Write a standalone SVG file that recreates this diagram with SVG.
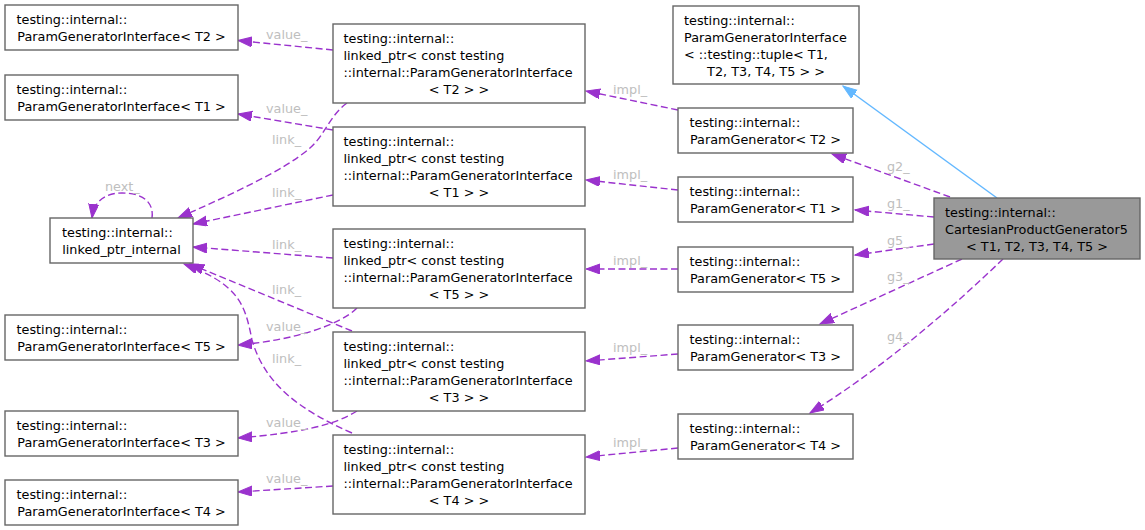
<svg xmlns="http://www.w3.org/2000/svg" width="1145" height="530" viewBox="0 0 1145 530">
<style>
.box{fill:#ffffff;stroke:#666666;stroke-width:1.4}
.main{fill:#999999;stroke:#666666;stroke-width:1.4}
text{font-family:"DejaVu Sans","Liberation Sans",sans-serif;font-size:12.8px;fill:#000000}
.c{text-anchor:middle}
.lbl{fill:#bebebe;font-size:12.8px}
.e{fill:none;stroke:#9a32cd;stroke-width:1.4;stroke-dasharray:7,3.5}
.inh{fill:none;stroke:#63b8ff;stroke-width:1.4}
</style>
<defs>
<marker id="ap" markerUnits="userSpaceOnUse" markerWidth="16" markerHeight="12" refX="14" refY="5" orient="auto">
<path d="M0,0 L14,5 L0,10 Z" fill="#9a32cd" stroke="#9a32cd" stroke-width="1"/>
</marker>
<marker id="ab" markerUnits="userSpaceOnUse" markerWidth="16" markerHeight="12" refX="14" refY="5" orient="auto">
<path d="M0,0 L14,5 L0,10 Z" fill="#63b8ff" stroke="#63b8ff" stroke-width="1"/>
</marker>
</defs>
<rect width="1145" height="530" fill="#ffffff"/>
<g id="connectors">
<path class="inh" d="M997,198 L843,86" marker-end="url(#ab)"/>
<path class="e" d="M950,197 L832,154" marker-end="url(#ap)"/>
<path class="e" d="M934,217 L855,210" marker-end="url(#ap)"/>
<path class="e" d="M934,244 L855,255" marker-end="url(#ap)"/>
<path class="e" d="M962,259 L820,324" marker-end="url(#ap)"/>
<path class="e" d="M1003,259 C950,310 880,370 810,413" marker-end="url(#ap)"/>
<path class="e" d="M678,110 L586,91" marker-end="url(#ap)"/>
<path class="e" d="M678,190 L586,180" marker-end="url(#ap)"/>
<path class="e" d="M678,269 L586,269" marker-end="url(#ap)"/>
<path class="e" d="M678,354 L586,361" marker-end="url(#ap)"/>
<path class="e" d="M678,448 L586,457" marker-end="url(#ap)"/>
<path class="e" d="M333,50 L238,40.5" marker-end="url(#ap)"/>
<path class="e" d="M333,130 L238,114" marker-end="url(#ap)"/>
<path class="e" d="M347,103 C330,115 325,135 310,148 C285,170 230,195 178,218" marker-end="url(#ap)"/>
<path class="e" d="M333,195 L193,224" marker-end="url(#ap)"/>
<path class="e" d="M333,258 L193,247" marker-end="url(#ap)"/>
<path class="e" d="M152,218 C154,204 145,193 122,193 C104,193 94,202 92,218" marker-end="url(#ap)"/>
<path class="e" d="M352,331 L190,264" marker-end="url(#ap)"/>
<path class="e" d="M352,433 C300,410 265,385 252,340 C245,305 240,285 184,264" marker-end="url(#ap)"/>
<path class="e" d="M357,308 C340,325 295,340 238,345" marker-end="url(#ap)"/>
<path class="e" d="M357,411 C335,425 300,433 238,438" marker-end="url(#ap)"/>
<path class="e" d="M333,486 L238,492" marker-end="url(#ap)"/>
<text class="lbl" x="887" y="171">g2_</text>
<text class="lbl" x="887" y="208">g1_</text>
<text class="lbl" x="887" y="245">g5_</text>
<text class="lbl" x="887" y="281">g3_</text>
<text class="lbl" x="887" y="341">g4_</text>
<text class="lbl" x="613" y="94">impl_</text>
<text class="lbl" x="613" y="179">impl_</text>
<text class="lbl" x="613" y="265">impl_</text>
<text class="lbl" x="613" y="352">impl_</text>
<text class="lbl" x="613" y="447">impl_</text>
<text class="lbl" x="266" y="39">value_</text>
<text class="lbl" x="266" y="113">value_</text>
<text class="lbl" x="266" y="331">value_</text>
<text class="lbl" x="266" y="427">value_</text>
<text class="lbl" x="266" y="483">value_</text>
<text class="lbl" x="272" y="144">link_</text>
<text class="lbl" x="272" y="197">link_</text>
<text class="lbl" x="272" y="249">link_</text>
<text class="lbl" x="272" y="294">link_</text>
<text class="lbl" x="272" y="363">link_</text>
<text class="lbl" x="105" y="191">next_</text>
</g>
<g id="pgi_t2"><rect class="box" x="5" y="5" width="233" height="45"/><text x="16.5" y="23.5">testing::internal::</text><text class="c" x="121.5" y="40.5">ParamGeneratorInterface&lt; T2 &gt;</text></g>
<g id="pgi_t1"><rect class="box" x="5" y="75" width="233" height="45"/><text x="16.5" y="93.5">testing::internal::</text><text class="c" x="121.5" y="110.5">ParamGeneratorInterface&lt; T1 &gt;</text></g>
<g id="lpi"><rect class="box" x="50" y="218" width="143" height="45"/><text x="62" y="236.5">testing::internal::</text><text class="c" x="121.5" y="253.5">linked_ptr_internal</text></g>
<g id="pgi_t5"><rect class="box" x="5" y="315" width="233" height="45"/><text x="16.5" y="333.5">testing::internal::</text><text class="c" x="121.5" y="350.5">ParamGeneratorInterface&lt; T5 &gt;</text></g>
<g id="pgi_t3"><rect class="box" x="5" y="411" width="233" height="45"/><text x="16.5" y="429.5">testing::internal::</text><text class="c" x="121.5" y="446.5">ParamGeneratorInterface&lt; T3 &gt;</text></g>
<g id="pgi_t4"><rect class="box" x="5" y="480" width="233" height="45"/><text x="16.5" y="498.5">testing::internal::</text><text class="c" x="121.5" y="515.5">ParamGeneratorInterface&lt; T4 &gt;</text></g>
<g id="lp_t2"><rect class="box" x="333" y="24" width="252" height="79"/><text x="343.5" y="42.5">testing::internal::</text><text x="343.5" y="59.5">linked_ptr&lt; const testing</text><text x="343.5" y="76.5">::internal::ParamGeneratorInterface</text><text class="c" x="459" y="93.5">&lt; T2 &gt; &gt;</text></g>
<g id="lp_t1"><rect class="box" x="333" y="127" width="252" height="79"/><text x="343.5" y="145.5">testing::internal::</text><text x="343.5" y="162.5">linked_ptr&lt; const testing</text><text x="343.5" y="179.5">::internal::ParamGeneratorInterface</text><text class="c" x="459" y="196.5">&lt; T1 &gt; &gt;</text></g>
<g id="lp_t5"><rect class="box" x="333" y="229" width="252" height="79"/><text x="343.5" y="247.5">testing::internal::</text><text x="343.5" y="264.5">linked_ptr&lt; const testing</text><text x="343.5" y="281.5">::internal::ParamGeneratorInterface</text><text class="c" x="459" y="298.5">&lt; T5 &gt; &gt;</text></g>
<g id="lp_t3"><rect class="box" x="333" y="332" width="252" height="79"/><text x="343.5" y="350.5">testing::internal::</text><text x="343.5" y="367.5">linked_ptr&lt; const testing</text><text x="343.5" y="384.5">::internal::ParamGeneratorInterface</text><text class="c" x="459" y="401.5">&lt; T3 &gt; &gt;</text></g>
<g id="lp_t4"><rect class="box" x="333" y="435" width="252" height="79"/><text x="343.5" y="453.5">testing::internal::</text><text x="343.5" y="470.5">linked_ptr&lt; const testing</text><text x="343.5" y="487.5">::internal::ParamGeneratorInterface</text><text class="c" x="459" y="504.5">&lt; T4 &gt; &gt;</text></g>
<g id="pgi_tuple"><rect class="box" x="673" y="6" width="186" height="78"/><text x="684" y="24.5">testing::internal::</text><text x="684" y="41.5">ParamGeneratorInterface</text><text x="684" y="58.5">&lt; ::testing::tuple&lt; T1,</text><text class="c" x="766" y="75.5">T2, T3, T4, T5 &gt; &gt;</text></g>
<g id="pg_t2"><rect class="box" x="678" y="108" width="175" height="45"/><text x="689.5" y="126.5">testing::internal::</text><text class="c" x="765.5" y="143.5">ParamGenerator&lt; T2 &gt;</text></g>
<g id="pg_t1"><rect class="box" x="678" y="177" width="175" height="45"/><text x="689.5" y="195.5">testing::internal::</text><text class="c" x="765.5" y="212.5">ParamGenerator&lt; T1 &gt;</text></g>
<g id="pg_t5"><rect class="box" x="678" y="247" width="175" height="45"/><text x="689.5" y="265.5">testing::internal::</text><text class="c" x="765.5" y="282.5">ParamGenerator&lt; T5 &gt;</text></g>
<g id="pg_t3"><rect class="box" x="678" y="325" width="175" height="45"/><text x="689.5" y="343.5">testing::internal::</text><text class="c" x="765.5" y="360.5">ParamGenerator&lt; T3 &gt;</text></g>
<g id="pg_t4"><rect class="box" x="678" y="414" width="175" height="45"/><text x="689.5" y="432.5">testing::internal::</text><text class="c" x="765.5" y="449.5">ParamGenerator&lt; T4 &gt;</text></g>
<g id="cartesian"><rect class="main" x="934" y="198" width="206" height="61"/><text x="945" y="216.5">testing::internal::</text><text x="945" y="233.5">CartesianProductGenerator5</text><text class="c" x="1037" y="250.5">&lt; T1, T2, T3, T4, T5 &gt;</text></g>
</svg>
